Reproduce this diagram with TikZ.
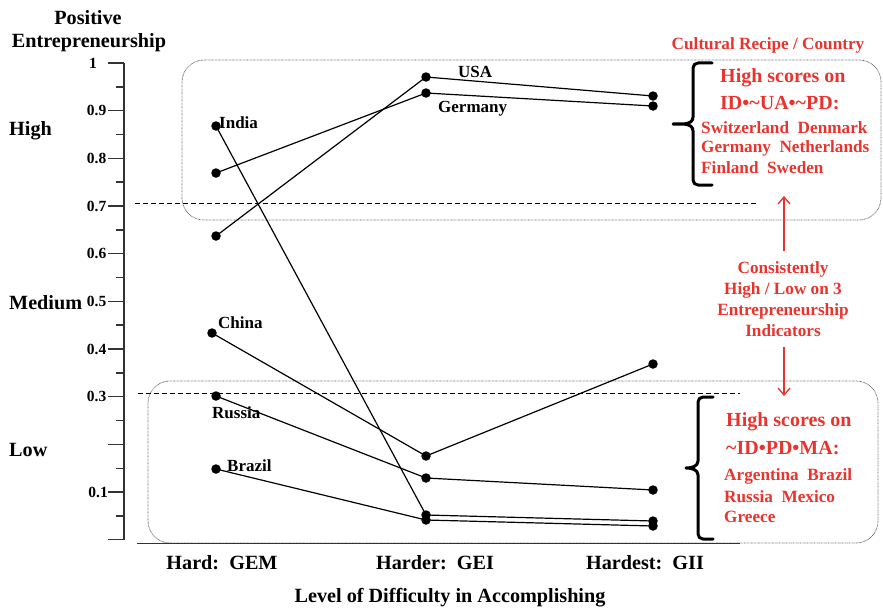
\documentclass[tikz,border=0pt]{standalone}
\usepackage{fontspec}
\setmainfont{Liberation Serif}
\usetikzlibrary{arrows.meta}
\definecolor{recipe}{RGB}{232,52,46}
\begin{document}
\begin{tikzpicture}[x=1pt,y=-1pt,
  lbl/.style={font=\fontsize{20.2}{23}\selectfont\bfseries, inner sep=0pt},
  ticklbl/.style={font=\fontsize{15.5}{18}\selectfont\bfseries, inner sep=0pt, anchor=east},
  ctry/.style={font=\fontsize{17}{20}\selectfont\bfseries, inner sep=0pt, anchor=west},
  redbig/.style={font=\fontsize{20}{24}\selectfont\bfseries, text=recipe, inner sep=0pt, anchor=west},
  redsmall/.style={font=\fontsize{17.2}{21}\selectfont\bfseries, text=recipe, inner sep=0pt},
  dot/.style={circle, fill=black, inner sep=0pt, minimum size=9.5pt},
  series/.style={line width=1.2pt},
  axisline/.style={line width=1.4pt, draw=black!80},
  cutline/.style={line width=0.9pt, dash pattern=on 5pt off 3pt},
  groupbox/.style={draw=black!60, line width=0.8pt, dash pattern=on 0.7pt off 0.7pt, rounded corners=22pt},
  brace/.style={line width=3pt, line cap=round, line join=round},
  redarrow/.style={draw=recipe, line width=1.3pt, -{Straight Barb[length=7pt,width=12pt,line width=1.3pt]}}
]
\useasboundingbox (0,0) rectangle (883,610);

% group boxes
\draw[groupbox] (182,60) rectangle (881,220);
\draw[groupbox] (148,381) rectangle (878,543);

% threshold lines
\draw[cutline] (135,203) -- (758,203);
\draw[cutline] (138,393) -- (740,393);

% vertical axis
\draw[axisline] (124,63) -- (124,540);
\foreach \v in {1,0.9,0.8,0.7,0.6,0.5,0.4,0.3,0.2,0.1,0}
  \draw[axisline] (108,{539.7-476.7*\v}) -- (124,{539.7-476.7*\v});
\foreach \v in {0.95,0.85,0.75,0.65,0.55,0.45,0.35,0.25,0.15,0.05}
  \draw[axisline] (116,{539.7-476.7*\v}) -- (124,{539.7-476.7*\v});
\node[ticklbl] (t10) at (97,63) {1};
\foreach \v/\n in {0.9/t9,0.8/t8,0.7/t7,0.6/t6,0.5/t5,0.4/t4,0.3/t3}
  \node[ticklbl] (\n) at (106.5,{539.7-476.7*\v}) {\v};
\node[ticklbl] (t1) at (108,492) {0.1};

% horizontal axis
\draw[axisline] (137,543.5) -- (740,543.5);

% axis titles and levels
\node[lbl] (ttl1) at (88,18) {Positive};
\node[lbl] (ttl2) at (89,43) {Entrepreneurship};
\node[lbl, anchor=west] (lvh) at (9,131) {High};
\node[lbl, anchor=west] (lvm) at (9,303) {Medium};
\node[lbl, anchor=west] (lvl) at (9,450) {Low};
\node[lbl] (c1) at (222,563) {Hard:\ \ GEM};
\node[lbl] (c2) at (435,563) {Harder:\ \ GEI};
\node[lbl] (c3) at (645,563) {Hardest:\ \ GII};
\node[lbl] (xt) at (450,598) {Level of Difficulty in Accomplishing};

% data points
\node[dot] (usa1) at (216,236) {};
\node[dot] (usa2) at (426,77) {};
\node[dot] (usa3) at (653,96) {};
\node[dot] (ger1) at (216,173) {};
\node[dot] (ger2) at (426,93) {};
\node[dot] (ger3) at (653,106) {};
\node[dot] (ind1) at (216,126) {};
\node[dot] (ind2) at (426,515) {};
\node[dot] (ind3) at (653,521) {};
\node[dot] (chn1) at (212,333) {};
\node[dot] (chn2) at (426,456) {};
\node[dot] (chn3) at (653,364) {};
\node[dot] (rus1) at (216,396) {};
\node[dot] (rus2) at (426,478) {};
\node[dot] (rus3) at (653,490) {};
\node[dot] (bra1) at (216,469) {};
\node[dot] (bra2) at (426,520) {};
\node[dot] (bra3) at (653,526) {};

\draw[series] (usa1.center) -- (usa2.center) -- (usa3.center);
\draw[series] (ger1.center) -- (ger2.center) -- (ger3.center);
\draw[series] (ind1.center) -- (ind2.center) -- (ind3.center);
\draw[series] (chn1.center) -- (chn2.center) -- (chn3.center);
\draw[series] (rus1.center) -- (rus2.center) -- (rus3.center);
\draw[series] (bra1.center) -- (bra2.center) -- (bra3.center);

% country labels
\node[ctry] (lusa) at (458,72) {USA};
\node[ctry] (lger) at (438,109) {Germany};
\node[ctry] (lind) at (219,123) {India};
\node[ctry] (lchn) at (218,323) {China};
\node[ctry] (lrus) at (212,413) {Russia};
\node[ctry] (lbra) at (227,466) {Brazil};

% braces
\draw[brace] (712,63) -- (698,63) to[out=180,in=90] (693,68) -- (693,117)
  to[out=-90,in=0] (673,124) to[out=0,in=90] (693,131) -- (693,180)
  to[out=-90,in=180] (698,185) -- (712,185);
\draw[brace] (713,397) -- (703,397) to[out=180,in=90] (698,402) -- (698,461)
  to[out=-90,in=0] (686,468) to[out=0,in=90] (698,475) -- (698,534)
  to[out=-90,in=180] (703,539) -- (713,539);

% cultural recipes
\node[redsmall] (hdr) at (768,45) {Cultural Recipe / Country};
\node[redbig] (hi1) at (720,78) {High scores on};
\node[redbig] (hi2) at (720,103) {ID•\char`\~UA•\char`\~PD:};
\node[redsmall, anchor=west] (hi3) at (701,128) {Switzerland\ \ Denmark};
\node[redsmall, anchor=west] (hi4) at (701,148) {Germany\ \ Netherlands};
\node[redsmall, anchor=west] (hi5) at (701,168) {Finland\ \ Sweden};

\node[redsmall, align=center] (cons) at (783,299.5)
  {Consistently\\High / Low on 3\\Entrepreneurship\\Indicators};
\coordinate (upfrom) at (784,251);
\coordinate (upto) at (784,196);
\coordinate (downfrom) at (784,347);
\coordinate (downto) at (784,396);
\draw[redarrow] (upfrom) -- (upto);
\draw[redarrow] (downfrom) -- (downto);

\node[redbig] (lo1) at (726,422) {High scores on};
\node[redbig] (lo2) at (726,448) {\char`\~ID•PD•MA:};
\node[redsmall, anchor=west] (lo3) at (724,476) {Argentina\ \ Brazil};
\node[redsmall, anchor=west] (lo4) at (724,497) {Russia\ \ Mexico};
\node[redsmall, anchor=west] (lo5) at (724,517) {Greece};
\end{tikzpicture}
\end{document}
